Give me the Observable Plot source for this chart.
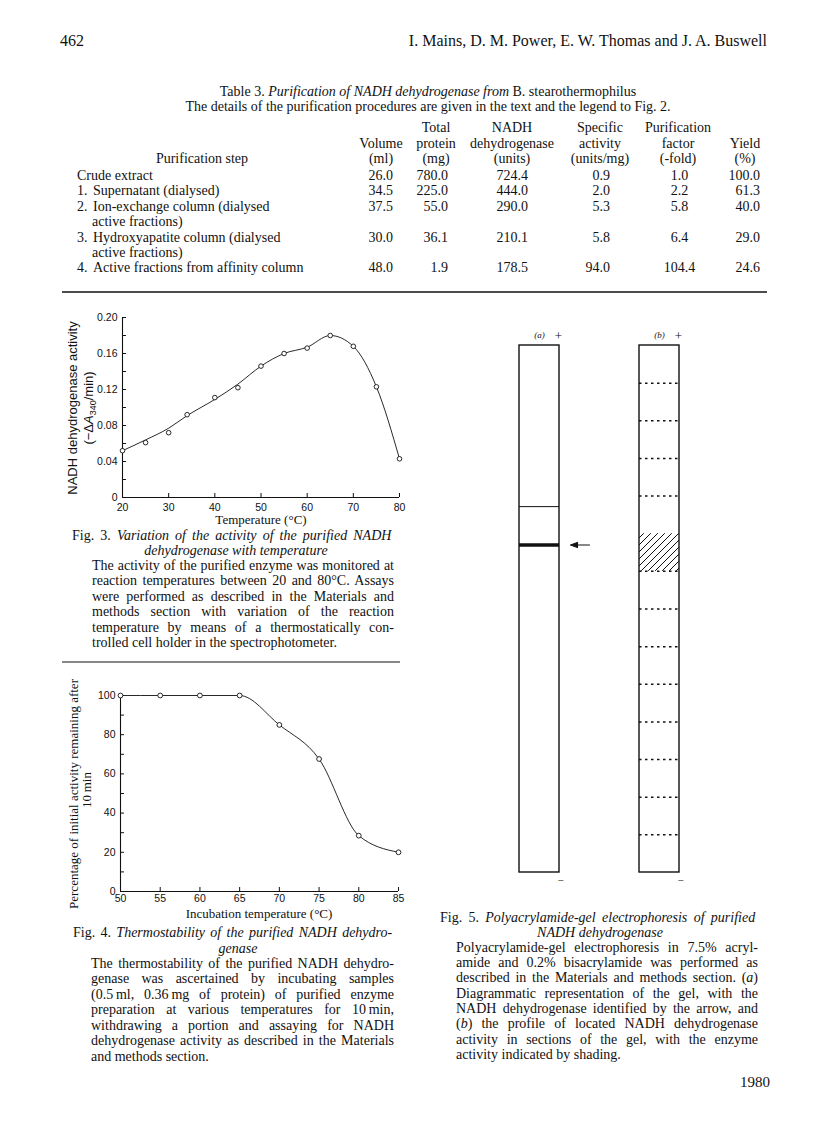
<!DOCTYPE html>
<html>
<head>
<meta charset="utf-8">
<script src="https://cdn.jsdelivr.net/npm/d3@7"></script>
<script src="https://cdn.jsdelivr.net/npm/@observablehq/plot@0.6"></script>
<style>
  html, body { margin:0; padding:0; background:#fff; }
  #page { position:relative; width:816px; height:1136px; overflow:hidden; background:#fff; }
</style>
</head>
<body>
<div id="page"></div>
<script>
// ---------------- DATA ----------------
// Table 3
const stepNumbers = ["", "1.", "2.", "3.", "4."];
const stepLines = [
  ["Crude extract"],
  ["Supernatant (dialysed)"],
  ["Ion-exchange column (dialysed", "active fractions)"],
  ["Hydroxyapatite column (dialysed", "active fractions)"],
  ["Active fractions from affinity column"]
];
const volumeMl = [26.0, 34.5, 37.5, 30.0, 48.0];
const totalProteinMg = [780.0, 225.0, 55.0, 36.1, 1.9];
const nadhUnits = [724.4, 444.0, 290.0, 210.1, 178.5];
const specificActivity = [0.9, 2.0, 5.3, 5.8, 94.0];
const purificationFold = [1.0, 2.2, 5.8, 6.4, 104.4];
const yieldPct = [100.0, 61.3, 40.0, 29.0, 24.6];
const columnHeads = [
  ["", "", "Purification step"],
  ["", "Volume", "(ml)"],
  ["Total", "protein", "(mg)"],
  ["NADH", "dehydrogenase", "(units)"],
  ["Specific", "activity", "(units/mg)"],
  ["Purification", "factor", "(-fold)"],
  ["", "Yield", "(%)"]
];

// Fig. 3 : activity vs temperature (measured points, and the drawn smooth curve read at the same temperatures)
const temp3 = [20, 25, 30, 34, 40, 45, 50, 55, 60, 65, 70, 75, 80];
const activity3 = [0.052, 0.061, 0.072, 0.092, 0.111, 0.122, 0.146, 0.160, 0.166, 0.180, 0.168, 0.123, 0.043];
const curve3 = [0.052, 0.064, 0.077, 0.091, 0.109, 0.126, 0.146, 0.160, 0.167, 0.180, 0.168, 0.123, 0.043];
const xTicks3 = [20, 30, 40, 50, 60, 70, 80];
const yTicks3 = [0, 0.04, 0.08, 0.12, 0.16, 0.20];
const yMinorTicks3 = [0.02, 0.06, 0.10, 0.14, 0.18];

// Fig. 4 : thermostability
const temp4 = [50, 55, 60, 65, 70, 75, 80, 85];
const remaining4 = [100, 100, 100, 100, 85, 67.6, 28.5, 20];
const xTicks4 = [50, 55, 60, 65, 70, 75, 80, 85];
const yTicks4 = [0, 20, 40, 60, 80, 100];
const yMinorTicks4 = [10, 30, 50, 70, 90];

// Fig. 5 : gel diagram (distance in gel-section units from the + end)
const gelLanes = ["(a)", "(b)"];
const gelLength = 14;
const sectionBoundaries = [1, 2, 3, 4, 6, 7, 8, 9, 10, 11, 12, 13];
const activeSection = [5, 6];
const laneALine = 4.28;
const nadhBand = 5.3;

// ---------------- LAYOUT ----------------
const SERIF = '"Liberation Serif","Times New Roman",serif';
const SANS = '"Liberation Sans",Arial,sans-serif';
const INK = "#111";
const page = document.getElementById("page");

function place(node, left, top) {
  node.style.position = "absolute";
  node.style.left = left + "px";
  node.style.top = top + "px";
  node.style.maxWidth = "none";
  page.appendChild(node);
}
// inward tick marks drawn as zero-length rules extended by a negative inset
function inwardTicksX(ticks, y0) {
  return Plot.ruleX(ticks, {x: d => d, y1: y0, y2: y0, insetTop: -4, stroke: INK, strokeWidth: 1});
}
function inwardTicksY(ticks, x0) {
  return Plot.ruleY(ticks, {y: d => d, x1: x0, x2: x0, insetRight: -4, stroke: INK, strokeWidth: 1});
}

// ---- Fig. 3 ----
try {
  const pts = temp3.map((t, i) => ({t, a: activity3[i]}));
  const crv = temp3.map((t, i) => ({t, a: curve3[i]}));
  const fig3 = Plot.plot({
    width: 360, height: 220,
    marginLeft: 62, marginRight: 21, marginTop: 17, marginBottom: 23,
    style: {fontFamily: SANS, fontSize: "10.5px", color: INK, background: "none", overflow: "visible"},
    x: {domain: [20, 80], label: null},
    y: {domain: [0, 0.2], label: null},
    marks: [
      Plot.ruleX([20], {stroke: INK, strokeWidth: 1.1}),
      Plot.ruleY([0], {stroke: INK, strokeWidth: 1.1}),
      inwardTicksY(yTicks3.concat(yMinorTicks3), 20),
      inwardTicksX(xTicks3, 0),
      Plot.axisY({ticks: yTicks3, tickSize: 0, tickPadding: 5, label: null,
                  tickFormat: d => d === 0 ? "0" : d.toFixed(2)}),
      Plot.axisX({ticks: xTicks3, tickSize: 0, tickPadding: 6, label: null, tickFormat: d => String(d)}),
      Plot.line(crv, {x: "t", y: "a", curve: "monotone-x", stroke: INK, strokeWidth: 0.9}),
      Plot.dot(pts, {x: "t", y: "a", r: 2.3, stroke: INK, fill: "white", strokeWidth: 0.9})
    ]
  });
  place(fig3, 60, 300);
} catch (e) { console.error("fig3", e); }

// ---- Fig. 4 ----
try {
  const pts = temp4.map((t, i) => ({t, p: remaining4[i]}));
  const fig4 = Plot.plot({
    width: 360, height: 230,
    marginLeft: 60, marginRight: 22, marginTop: 15, marginBottom: 19,
    style: {fontFamily: SANS, fontSize: "10.5px", color: INK, background: "none", overflow: "visible"},
    x: {domain: [50, 85], label: null},
    y: {domain: [0, 100], label: null},
    marks: [
      Plot.ruleX([50], {stroke: INK, strokeWidth: 1.1}),
      Plot.ruleY([0], {stroke: INK, strokeWidth: 1.1}),
      inwardTicksY(yTicks4.concat(yMinorTicks4), 50),
      inwardTicksX(xTicks4, 0),
      Plot.axisY({ticks: yTicks4, tickSize: 0, tickPadding: 5, label: null, tickFormat: d => String(d)}),
      Plot.axisX({ticks: xTicks4, tickSize: 0, tickPadding: 3.5, label: null, tickFormat: d => String(d)}),
      Plot.line(pts, {x: "t", y: "p", curve: "monotone-x", stroke: INK, strokeWidth: 0.9}),
      Plot.dot(pts, {x: "t", y: "p", r: 2.4, stroke: INK, fill: "white", strokeWidth: 0.9})
    ]
  });
  place(fig4, 60, 680);
} catch (e) { console.error("fig4", e); }

// ---- Fig. 5 gel ----
const hatchDefs = () => {
  const g = document.createElementNS("http://www.w3.org/2000/svg", "g");
  g.innerHTML = '<defs><pattern id="hatch" patternUnits="userSpaceOnUse" width="7" height="7">' +
    '<path d="M-1,1 l2,-2 M0,7 l7,-7 M6,8 l2,-2" stroke="#111" stroke-width="1"/></pattern></defs>';
  return g;
};
// filled-head arrow shape for the vector mark
const filledArrow = {
  draw(context, l) {
    context.moveTo(0, 0); context.lineTo(0, -l + 6);
    context.moveTo(0, -l); context.lineTo(-2.6, -l + 7); context.lineTo(2.6, -l + 7); context.closePath();
  }
};
function gelPlot(arrowShape) {
  const vecOpts = {x: () => "(a)", y: d => d, length: 19, rotate: -90, anchor: "start", dx: 50,
                   stroke: INK, strokeWidth: 1.1};
  if (arrowShape) { vecOpts.shape = arrowShape; vecOpts.fill = INK; }
  return Plot.plot({
    width: 240, height: 570,
    marginTop: 25, marginBottom: 18, marginLeft: 0, marginRight: 0,
    style: {fontFamily: SERIF, fontSize: "9px", color: INK, background: "none", overflow: "visible"},
    x: {type: "band", domain: gelLanes, paddingInner: 2 / 3, paddingOuter: 1 / 3, axis: null},
    y: {domain: [0, gelLength], reverse: true, axis: null},
    marks: [
      hatchDefs,
      Plot.barY([activeSection], {x: () => "(b)", y1: d => d[0], y2: d => d[1], fill: "url(#hatch)"}),
      Plot.tickY(sectionBoundaries, {x: () => "(b)", y: d => d, stroke: INK, strokeWidth: 1.5, strokeDasharray: "2.5,3.5"}),
      Plot.tickY([laneALine], {x: () => "(a)", y: d => d, stroke: INK, strokeWidth: 1}),
      Plot.tickY([nadhBand], {x: () => "(a)", y: d => d, stroke: INK, strokeWidth: 3.5}),
      Plot.barY(gelLanes, {x: d => d, y1: 0, y2: gelLength, fill: "none", stroke: INK, strokeWidth: 1.4}),
      Plot.text(gelLanes, {x: d => d, y: 0, text: d => d, dy: -10, fontStyle: "italic"}),
      Plot.text(gelLanes, {x: d => d, y: 0, text: () => "+", dy: -10, dx: 19, fontSize: 13}),
      Plot.text(gelLanes, {x: d => d, y: gelLength, text: () => "\u2212", dy: 8, dx: 21, fontSize: 11}),
      Plot.vector([nadhBand], vecOpts)
    ]
  });
}
try {
  let gel;
  try { gel = gelPlot(filledArrow); } catch (e) { gel = gelPlot(null); }
  place(gel, 479, 320);
} catch (e) { console.error("gel", e); }

// ---- text overlay ----
const ov = d3.select(page).append("svg")
  .attr("width", 816).attr("height", 1136)
  .style("position", "absolute").style("left", "0px").style("top", "0px")
  .style("z-index", 5).style("pointer-events", "none");

function justify(t, width) {
  const natural = t.node().getComputedTextLength();
  const spaces = (t.text().match(/ /g) || []).length;
  if (natural > width) t.attr("textLength", width).attr("lengthAdjust", "spacingAndGlyphs");
  else if (spaces) t.attr("word-spacing", (width - natural) / spaces);
}
function T(x, y, parts, o = {}) {
  const t = ov.append("text").attr("x", x).attr("y", y)
    .attr("font-family", o.family || SERIF)
    .attr("font-size", o.size || 14)
    .attr("text-anchor", o.anchor || "start")
    .attr("fill", INK);
  if (o.rotate) t.attr("transform", `rotate(${o.rotate},${x},${y})`);
  if (typeof parts === "string") parts = [[parts]];
  for (const p of parts) {
    const s = t.append("tspan").text(p[0]);
    if (p[1]) s.attr("font-style", "italic");
    if (p[2]) { if (p[2].size) s.attr("font-size", p[2].size); if (p[2].dy) s.attr("dy", p[2].dy); }
  }
  if (o.width) justify(t, o.width);
  return t;
}
function rule(x1, x2, y, w) {
  ov.append("line").attr("x1", x1).attr("x2", x2).attr("y1", y).attr("y2", y)
    .attr("stroke", INK).attr("stroke-width", w);
}

// header
T(60, 46, "462", {size: 16});
T(767, 46, "I. Mains, D. M. Power, E. W. Thomas and J. A. Buswell", {size: 16, anchor: "end"});

// table
T(428, 95.5, [["Table 3.  "], ["Purification of NADH dehydrogenase from ", true], ["B. stearothermophilus"]], {anchor: "middle"});
T(428, 111, "The details of the purification procedures are given in the text and the legend to Fig. 2.", {anchor: "middle"});
const headCenters = [202, 381, 436, 512, 600, 678, 745];
const headY = [127.5, 143, 158.5];
columnHeads.forEach((col, c) => col.forEach((s, r) => { if (s) T(headCenters[c], headY[r] + 4.5, s, {anchor: "middle"}); }));
const valueCols = [
  {vals: volumeMl, x: 393, anchor: "end"},
  {vals: totalProteinMg, x: 448, anchor: "end"},
  {vals: nadhUnits, x: 528, anchor: "end"},
  {vals: specificActivity, x: 610, anchor: "end"},
  {vals: purificationFold, x: 679.5, anchor: "middle"},
  {vals: yieldPct, x: 760, anchor: "end"}
];
let line = 0;
stepLines.forEach((lines, i) => {
  const y = 175.5 + 15.4 * line + 4.5;
  if (stepNumbers[i]) T(77, y, stepNumbers[i]);
  lines.forEach((s, k) => T(stepNumbers[i] ? (k ? 92 : 93) : 77, y + 15.4 * k, s));
  valueCols.forEach(col => T(col.x, y, col.vals[i].toFixed(1), {anchor: col.anchor}));
  line += lines.length;
});
rule(62, 767, 292, 1.6);

// Fig 3 texts
T(76.5, 408, "NADH dehydrogenase activity", {family: SANS, size: 13, anchor: "middle", rotate: -90});
T(92.5, 408, [["(\u2212\u0394"], ["A", true], ["340", false, {size: 9, dy: 3}], ["/min)", false, {dy: -3}]],
  {family: SANS, size: 13, anchor: "middle", rotate: -90});
T(261, 524, "Temperature (\u00b0C)", {anchor: "middle", size: 13});
T(72, 540, [["Fig. 3.  "], ["Variation of the activity of the purified NADH", true]], {width: 322});
T(236, 554.5, [["dehydrogenase with temperature", true]], {anchor: "middle"});
const cap3 = [
  "The activity of the purified enzyme was monitored at",
  "reaction temperatures between 20 and 80\u00b0C. Assays",
  "were performed as described in the Materials and",
  "methods section with variation of the reaction",
  "temperature by means of a thermostatically con-",
  "trolled cell holder in the spectrophotometer."
];
cap3.forEach((s, i) => T(92, 569.5 + 15.5 * i, s, i < cap3.length - 1 ? {width: 302} : {}));
rule(62, 400, 662, 1.1);

// Fig 4 texts
T(77.5, 794, "Percentage of initial activity remaining after", {size: 13, anchor: "middle", rotate: -90});
T(90.5, 790, "10\u2009min", {size: 13, anchor: "middle", rotate: -90});
T(259, 918, "Incubation temperature (\u00b0C)", {anchor: "middle", size: 13});
T(73, 936.5, [["Fig. 4.  "], ["Thermostability of the purified NADH dehydro-", true]], {width: 321});
T(238, 952.5, [["genase", true]], {anchor: "middle"});
const cap4 = [
  "The thermostability of the purified NADH dehydro-",
  "genase was ascertained by incubating samples",
  "(0.5\u2009ml, 0.36\u2009mg of protein) of purified enzyme",
  "preparation at various temperatures for 10\u2009min,",
  "withdrawing a portion and assaying for NADH",
  "dehydrogenase activity as described in the Materials",
  "and methods section."
];
cap4.forEach((s, i) => T(91, 967.5 + 15.5 * i, s, i < cap4.length - 1 ? {width: 303} : {}));

// Fig 5 texts
T(440, 921.5, [["Fig. 5.  "], ["Polyacrylamide-gel electrophoresis of purified", true]], {width: 318});
T(600, 936.5, [["NADH dehydrogenase", true]], {anchor: "middle"});
const cap5 = [
  [["Polyacrylamide-gel electrophoresis in 7.5% acryl-"]],
  [["amide and 0.2% bisacrylamide was performed as"]],
  [["described in the Materials and methods section. ("], ["a", true], [")"]],
  [["Diagrammatic representation of the gel, with the"]],
  [["NADH dehydrogenase identified by the arrow, and"]],
  [["("], ["b", true], [") the profile of located NADH dehydrogenase"]],
  [["activity in sections of the gel, with the enzyme"]],
  [["activity indicated by shading."]]
];
cap5.forEach((p, i) => T(456, 951.5 + 15.35 * i, p, i < cap5.length - 1 ? {width: 302} : {}));
T(770, 1087, "1980", {anchor: "end", size: 15});
</script>
</body>
</html>
